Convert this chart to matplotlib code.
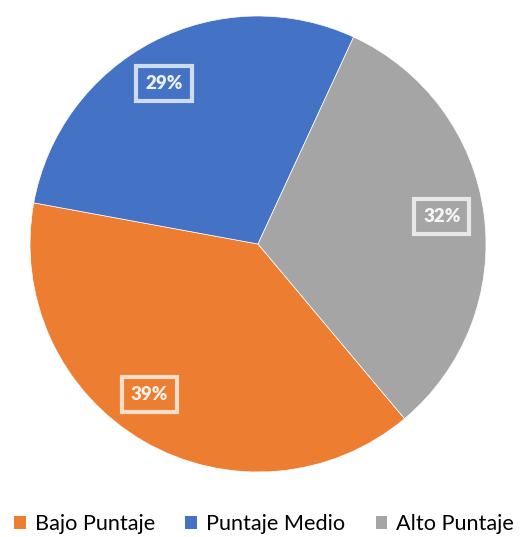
import numpy as np
import matplotlib.pyplot as plt
from matplotlib.patches import Patch

plt.rcParams['font.family'] = ['Lato', 'DejaVu Sans']

labels = ["Bajo Puntaje", "Puntaje Medio", "Alto Puntaje"]
values = [39, 29, 32]
colors = ["#ED7D31", "#4472C4", "#A5A5A5"]

# excel "best fit" nudges the labels a little off the slice middle
label_shift = [-5.5, 3.0, 1.0]

fig = plt.figure(figsize=(5.2, 5.37), dpi=100)
ax = fig.add_axes([30 / 520, 65 / 537, 456 / 520, 456 / 537])

wedges, texts = ax.pie(values, colors=colors, startangle=-50, counterclock=False,
                       radius=1, wedgeprops=dict(linewidth=0.5, edgecolor="white"))

total = sum(values)
for w, v, s in zip(wedges, values, label_shift):
    ang = np.deg2rad((w.theta1 + w.theta2) / 2 + s)
    x, y = 0.815 * np.cos(ang), 0.815 * np.sin(ang)
    ax.text(x, y, f"{round(v / total * 100)}%", ha="center", va="center",
            fontsize=13.5, fontweight="heavy", color=(1, 1, 1, 0.9),
            bbox=dict(boxstyle="square,pad=0.48", facecolor="none",
                      edgecolor=(1, 1, 1, 0.75), linewidth=3))

ax.set_xlim(-1, 1)
ax.set_ylim(-1, 1)
ax.set_aspect("equal")
ax.axis("off")

handles = [Patch(facecolor=c, label=l) for c, l in zip(colors, labels)]
fig.legend(handles=handles, loc="center", bbox_to_anchor=(0.508, 0.024), ncol=3,
           frameon=False, fontsize=15.6, handlelength=0.55, handleheight=0.55,
           handletextpad=0.4, columnspacing=1.4, borderpad=0)

fig.savefig("out.png", dpi=100)
